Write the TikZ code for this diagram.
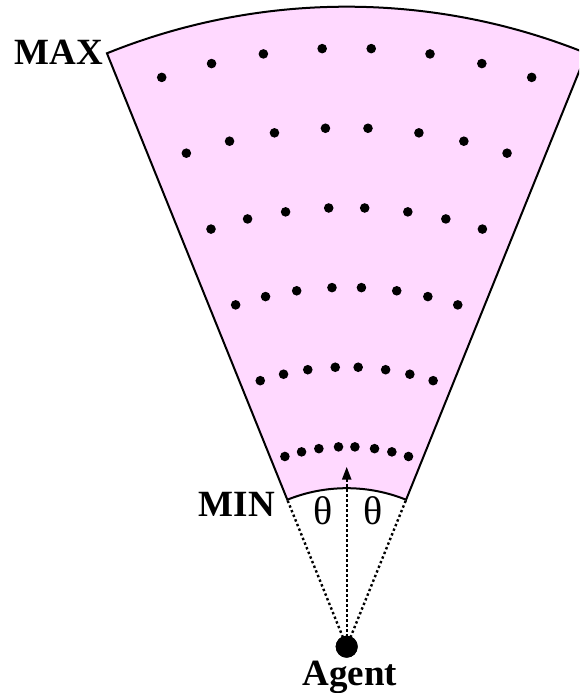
\documentclass[tikz,border=0pt]{standalone}
\usepackage{fontspec}
\setmainfont{Liberation Serif}
\usetikzlibrary{arrows.meta}
\definecolor{sectorpink}{RGB}{255,217,255}
\begin{document}
\begin{tikzpicture}[x=1pt,y=1pt,
  sector/.style={fill=sectorpink, draw=black, line width=2pt, line join=miter},
  sample/.style={fill=black},
  ray/.style={line width=2.4pt, dash pattern=on 2.4pt off 2.6pt},
  lbl/.style={font=\fontsize{37}{40}\selectfont\bfseries, inner sep=0pt},
  ang/.style={font=\fontsize{40}{44}\selectfont, inner sep=0pt}]
\useasboundingbox (0,0) rectangle (579,693);
\clip (0,0) rectangle (579,693);
\coordinate (A) at (346.7,46.3);
\path (A) ++(112:158.5pt) coordinate (minL);
\path (A) ++(68:158.5pt) coordinate (minR);
\path (A) ++(112:640pt) coordinate (maxL);
\path (A) ++(68:640pt) coordinate (maxR);
\draw[sector] (minL) -- (maxL) arc[start angle=112, end angle=68, radius=640pt] -- (minR) arc[start angle=68, end angle=112, radius=158.5pt] -- cycle;
\foreach \r in {200,279.7,359.4,439.1,518.9,598.6}{
  \foreach \a in {-18.0,-13.05,-8.0,-2.35,2.35,8.0,13.05,18.0}{
    \fill[sample] (A) ++({90+\a}:\r pt) circle[radius=4.8pt];
  }
}
\coordinate (tip) at (346.7,226.3);
\node[circle, fill=black, inner sep=0pt, minimum size=22pt] (agent) at (A) {};
\draw[ray] (agent.center) -- (minL);
\draw[ray] (agent.center) -- (minR);
\draw[ray, -{Triangle[length=13pt,width=9pt]}] (agent.center) -- (tip);
\node[circle, fill=black, inner sep=0pt, minimum size=22pt] at (A) {};
\node[lbl, anchor=base east] (maxlbl) at (103.3,628) {MAX};
\node[lbl, anchor=base east] (minlbl) at (275,176.3) {MIN};
\node[ang, anchor=base] (th1) at (323,168) {θ};
\node[ang, anchor=base] (th2) at (373,168) {θ};
\node[lbl, anchor=base] (agentlbl) at (350,7) {Agent};
\end{tikzpicture}
\end{document}
